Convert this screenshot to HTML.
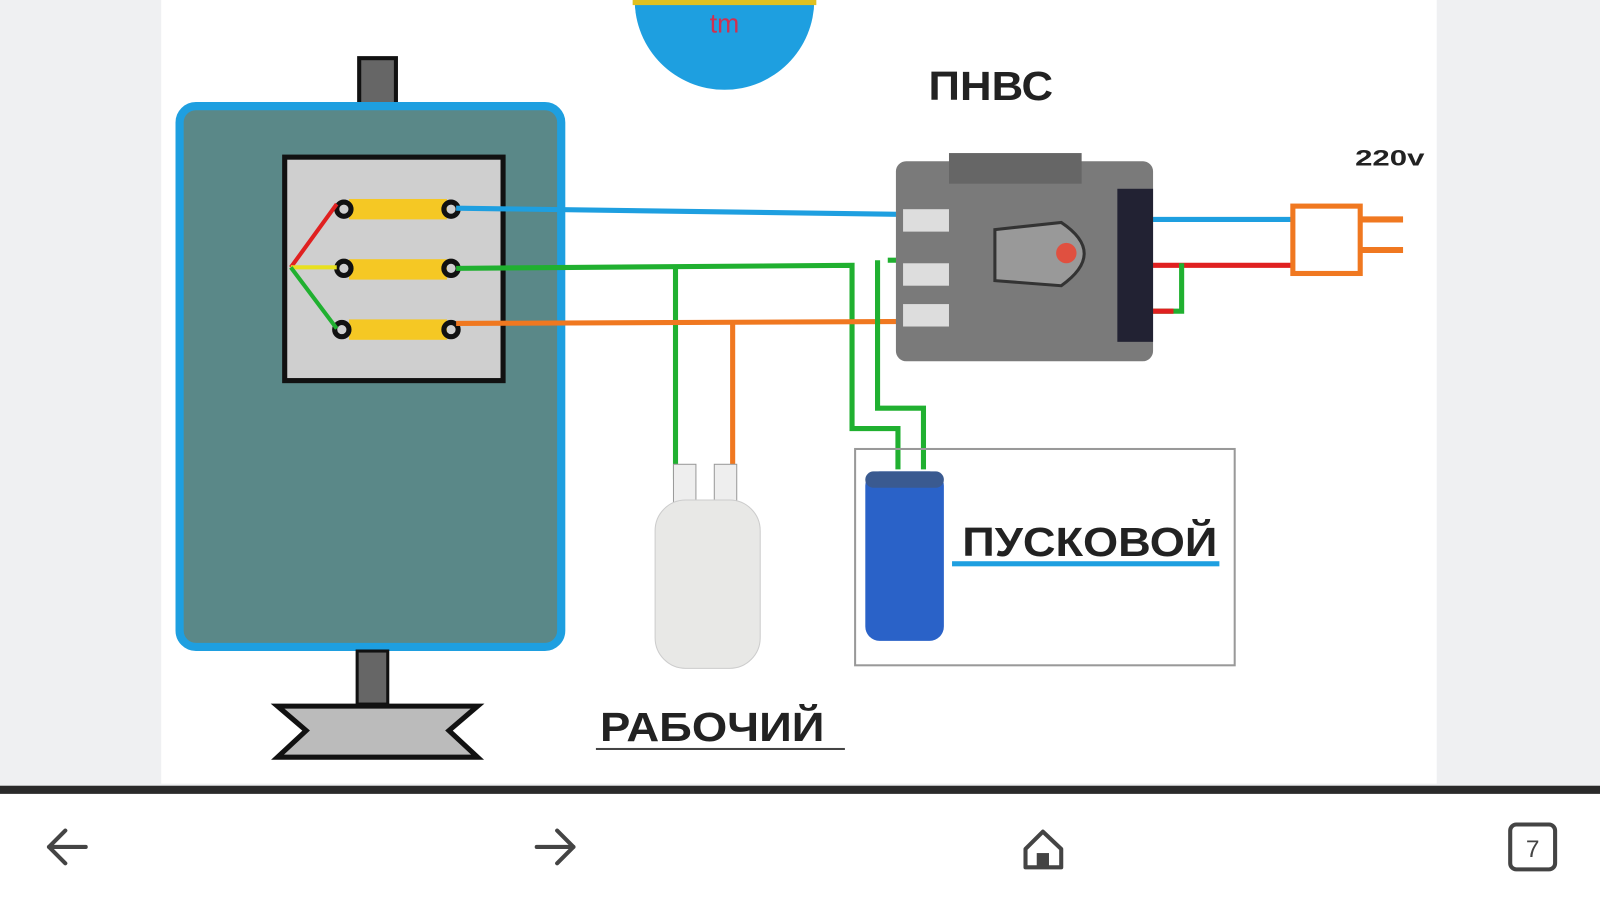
<!DOCTYPE html>
<html><head><meta charset="utf-8"><style>
html,body{margin:0;padding:0;width:1600px;height:900px;overflow:hidden;background:#fff}
svg{display:block}
</style></head><body>
<svg width="1600" height="900" viewBox="0 0 1568 882" preserveAspectRatio="none" xmlns="http://www.w3.org/2000/svg">
<rect x="0" y="0" width="1568" height="770" fill="#eff0f2"/>
<rect x="158" y="0" width="1250" height="768" fill="#fff"/>
<clipPath id="c"><rect x="0" y="0" width="1568" height="768"/></clipPath>
<g clip-path="url(#c)">
<circle cx="710" cy="0" r="88" fill="#1e9fe0"/>
<rect x="620" y="0" width="180" height="5" fill="#e0c020"/>
<text x="710" y="32" font-family="Liberation Sans,sans-serif" font-size="26" fill="#d03050" text-anchor="middle">tm</text>
</g>
<rect x="352" y="57" width="36" height="45" fill="#666" stroke="#111" stroke-width="4"/>
<rect x="176" y="104" width="374" height="530" rx="16" fill="#5a8888" stroke="#1e9fe0" stroke-width="8"/>
<rect x="279" y="154" width="214" height="219" fill="#cfcfcf" stroke="#111" stroke-width="5"/>
<g fill="#f5c824">
<rect x="342" y="195" width="96" height="20"/><rect x="342" y="254" width="96" height="20"/><rect x="342" y="313" width="96" height="20"/>
</g>
<g fill="none" stroke="#111" stroke-width="5">
<circle cx="337" cy="205" r="7"/><circle cx="337" cy="263" r="7"/><circle cx="335" cy="323" r="7"/>
<circle cx="442" cy="205" r="7"/><circle cx="442" cy="263" r="7"/><circle cx="442" cy="323" r="7"/>
</g>
<path d="M285 262 L330 200" stroke="#e02020" stroke-width="4"/>
<path d="M285 262 L330 262" stroke="#e8e020" stroke-width="4"/>
<path d="M285 262 L330 322" stroke="#20b030" stroke-width="4"/>
<rect x="350" y="638" width="30" height="52" fill="#666" stroke="#111" stroke-width="3"/>
<path d="M272 692 L468 692 L440 716 L468 742 L272 742 L300 716 Z" fill="#bbb" stroke="#111" stroke-width="5"/>
<g fill="none" stroke-width="5">
<path d="M447 204 L880 210" stroke="#1e9fe0"/>
<path d="M447 263 L835 260 L835 420 L880 420 L880 460" stroke="#20b030"/>
<path d="M662 262 L662 470" stroke="#20b030"/>
<path d="M447 317 L900 315" stroke="#f07820"/>
<path d="M718 316 L718 490" stroke="#f07820"/>
<path d="M860 255 L860 400 L905 400 L905 460" stroke="#20b030"/>
<path d="M870 255 L885 255" stroke="#20b030"/>
<path d="M1125 215 L1265 215" stroke="#1e9fe0"/>
<path d="M1125 260 L1265 260" stroke="#e02020"/>
<path d="M1125 305 L1158 305 L1158 258" stroke="#20b030"/>
<path d="M1125 305 L1150 305" stroke="#e02020"/>
</g>
<rect x="878" y="158" width="252" height="196" rx="10" fill="#7a7a7a"/>
<rect x="930" y="150" width="130" height="30" fill="#666"/>
<rect x="1095" y="185" width="35" height="150" fill="#223"/>
<path d="M975 225 L1040 218 Q1085 248 1040 280 L975 275 Z" fill="#999" stroke="#333" stroke-width="3"/>
<circle cx="1045" cy="248" r="10" fill="#e05040"/>
<g fill="#ddd"><rect x="885" y="205" width="45" height="22"/><rect x="885" y="258" width="45" height="22"/><rect x="885" y="298" width="45" height="22"/></g>
<rect x="1267" y="202" width="66" height="66" fill="#fff" stroke="#f07820" stroke-width="5"/>
<path d="M1333 215 L1375 215 M1333 245 L1375 245" stroke="#f07820" stroke-width="6"/>
<text x="1328" y="162" font-family="Liberation Sans,sans-serif" font-weight="bold" font-size="22" fill="#222" textLength="68" lengthAdjust="spacingAndGlyphs">220v</text>
<text x="910" y="98" font-family="Liberation Sans,sans-serif" font-weight="bold" font-size="40" fill="#222" textLength="122" lengthAdjust="spacingAndGlyphs">ПНВС</text>
<rect x="838" y="440" width="372" height="212" fill="none" stroke="#999" stroke-width="2"/>
<rect x="660" y="455" width="22" height="45" fill="#eee" stroke="#999"/>
<rect x="700" y="455" width="22" height="45" fill="#eee" stroke="#999"/>
<rect x="642" y="490" width="103" height="165" rx="30" fill="#e8e8e6" stroke="#ccc"/>
<rect x="848" y="462" width="77" height="166" rx="14" fill="#2a62c8"/>
<rect x="848" y="462" width="77" height="16" rx="8" fill="#3a5a90"/>
<text x="943" y="545" font-family="Liberation Sans,sans-serif" font-weight="bold" font-size="40" fill="#222" textLength="250" lengthAdjust="spacingAndGlyphs">ПУСКОВОЙ</text>
<rect x="933" y="550" width="262" height="5" fill="#1e9fe0"/>
<text x="588" y="726" font-family="Liberation Sans,sans-serif" font-weight="bold" font-size="40" fill="#222" textLength="220" lengthAdjust="spacingAndGlyphs">РАБОЧИЙ</text>
<rect x="584" y="733" width="244" height="2" fill="#444"/>
<rect x="0" y="770" width="1568" height="8" fill="#2a2a2a"/>
<g fill="none" stroke="#444" stroke-width="4" stroke-linecap="round" stroke-linejoin="round">
<path d="M84 830 L48 830 M64 814 L48 830 L64 846"/>
<path d="M526 830 L562 830 M546 814 L562 830 L546 846"/>
<path d="M1005 832 L1022 815 L1040 832 L1040 850 L1005 850 Z"/>
<rect x="1480" y="808" width="44" height="44" rx="6"/>
</g>
<rect x="1016" y="836" width="12" height="14" fill="#444"/>
<text x="1502" y="840" font-family="Liberation Sans,sans-serif" font-size="24" fill="#444" text-anchor="middle">7</text>
</svg>
</body></html>
